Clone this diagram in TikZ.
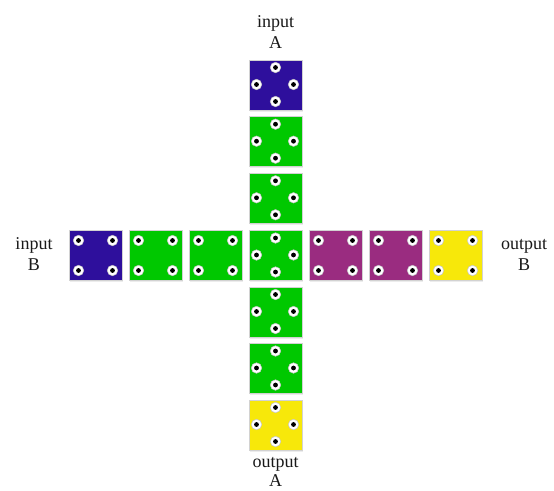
\documentclass[tikz,border=0pt]{standalone}
\usepackage{fontspec}
\setmainfont{Liberation Serif}
\usetikzlibrary{calc,shadows}
\definecolor{cblue}{HTML}{2E0F9C}
\definecolor{cgreen}{HTML}{00C800}
\definecolor{cpurple}{HTML}{9A2C80}
\definecolor{cyellow}{HTML}{F7E80A}
\tikzset{
  sq/.style={draw=gray!35,line width=0.8pt,minimum width=53pt,minimum height=50pt,inner sep=0pt,
    drop shadow={opacity=0.15,shadow xshift=1pt,shadow yshift=-1.5pt}},
  hole/.style={circle,fill=white,draw=gray!45,line width=0.5pt,minimum size=10.5pt,inner sep=0pt,
    path picture={\fill[black] (path picture bounding box.center) circle (2.4pt);}},
  lbl/.style={font=\fontsize{18}{21}\selectfont,align=center,inner sep=0pt,anchor=north,text=black!90}
}
\newcommand{\diamondholes}[1]{%
  \node[hole] at ($(#1.center)+(0,-17.5)$) {};
  \node[hole] at ($(#1.center)+(0,16.5)$) {};
  \node[hole] at ($(#1.center)+(-19,-0.5)$) {};
  \node[hole] at ($(#1.center)+(18,-0.5)$) {};
}
\newcommand{\cornerholes}[1]{%
  \node[hole] at ($(#1.center)+(-17,-15)$) {};
  \node[hole] at ($(#1.center)+(17,-15)$) {};
  \node[hole] at ($(#1.center)+(-17,15)$) {};
  \node[hole] at ($(#1.center)+(17,15)$) {};
}
\begin{document}
\begin{tikzpicture}[x=1pt,y=-1pt]
\useasboundingbox[fill=white] (0,0) rectangle (554,490);
% vertical column
\node[sq,fill=cblue]   (v1) at (275.5,85) {};
\node[sq,fill=cgreen]  (v2) at (275.5,141.7) {};
\node[sq,fill=cgreen]  (v3) at (275.5,198.3) {};
\node[sq,fill=cgreen]  (v4) at (275.5,255.5) {};
\node[sq,fill=cgreen]  (v5) at (275.5,312) {};
\node[sq,fill=cgreen]  (v6) at (275.5,368.5) {};
\node[sq,fill=cyellow] (v7) at (275.5,425) {};
% horizontal row
\node[sq,fill=cblue]    (h1) at (95.5,255.5) {};
\node[sq,fill=cgreen]   (h2) at (155.5,255.5) {};
\node[sq,fill=cgreen]   (h3) at (215.5,255.5) {};
\node[sq,fill=cpurple]  (h5) at (335.5,255.5) {};
\node[sq,fill=cpurple]  (h6) at (395.5,255.5) {};
\node[sq,fill=cyellow]  (h7) at (455.5,255.5) {};
% holes
\foreach \n in {v1,v2,v3,v4,v5,v6,v7} {\diamondholes{\n}}
\foreach \n in {h1,h2,h3,h5,h6,h7} {\cornerholes{\n}}
% labels
\node[lbl] (inA)  at (275.5,15)  {input\\A};
\node[lbl] (inB)  at (34,237.7)  {input\\B};
\node[lbl] (outB) at (524,239.6) {output\\B};
\node[lbl,font=\fontsize{18}{19.5}\selectfont] (outA) at (275.5,457) {output\\A};
\end{tikzpicture}
\end{document}
